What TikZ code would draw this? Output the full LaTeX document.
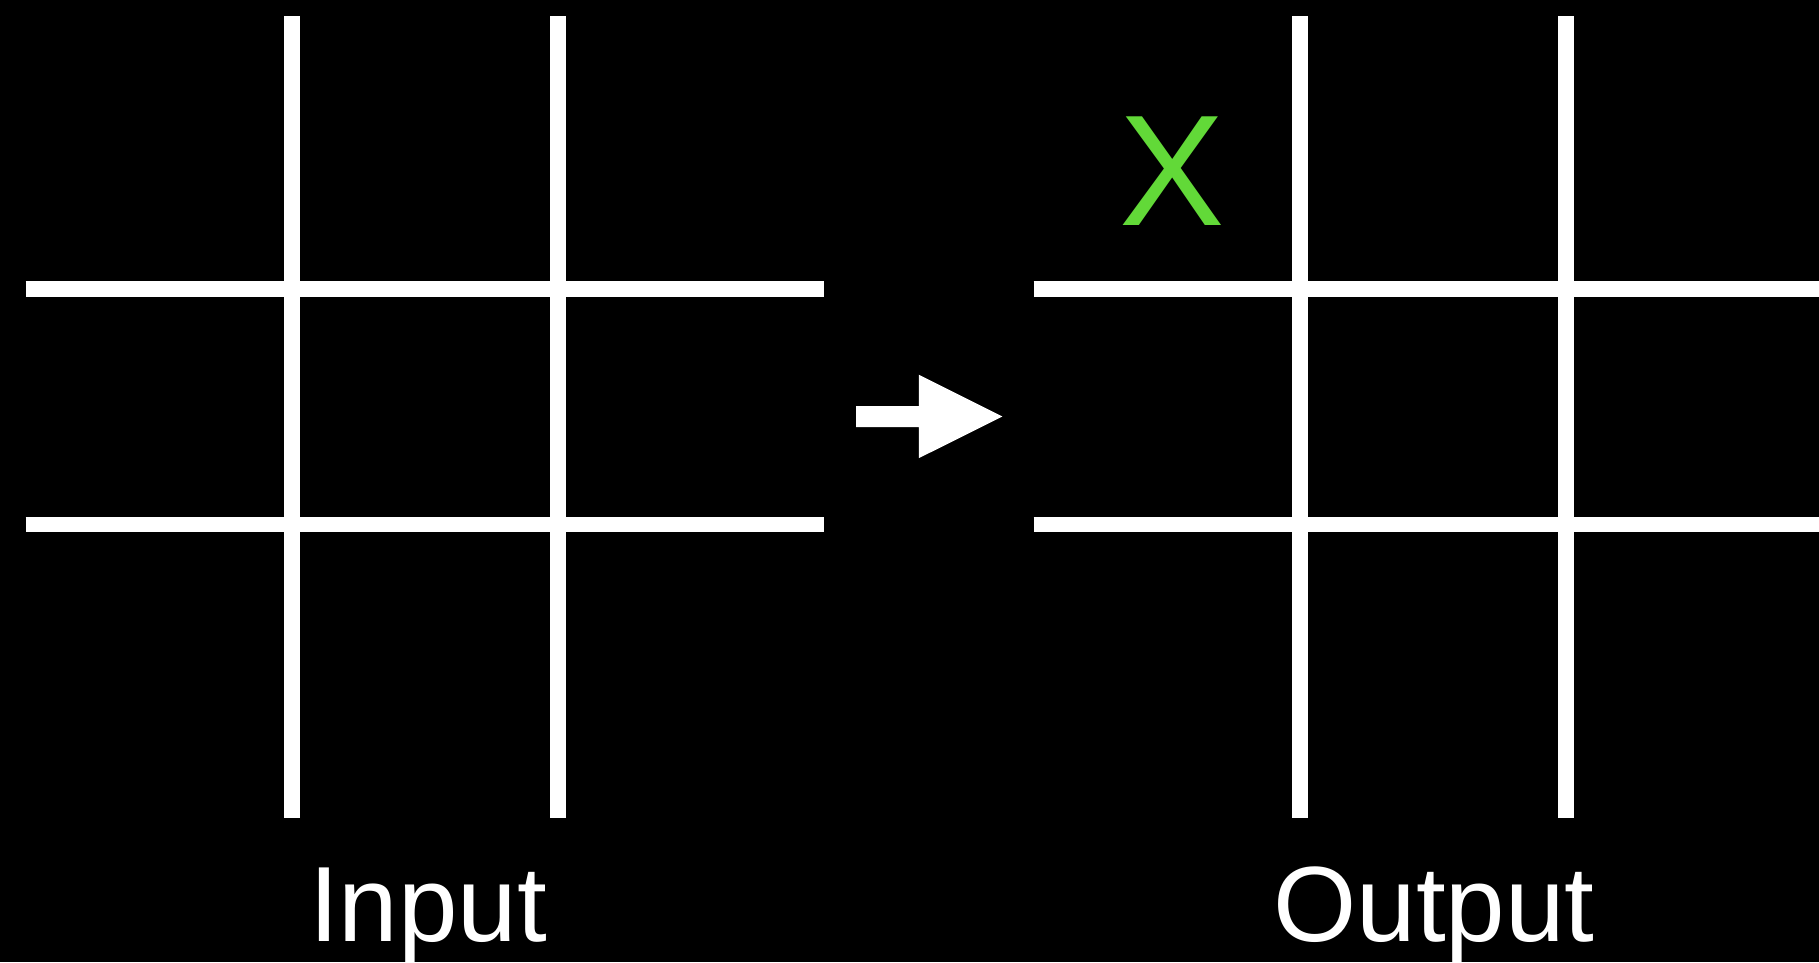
\documentclass[tikz,border=0pt]{standalone}
\usepackage{fontspec}
\setmainfont{Liberation Sans}
\definecolor{xgreen}{RGB}{98,217,56}
\begin{document}
\begin{tikzpicture}[x=1pt,y=-1pt,
  gridline/.style={draw=white,line width=15.5pt},
  label/.style={text=white,inner sep=0pt,anchor=base,font=\fontsize{107}{120}\selectfont},
  mark/.style={}]
\fill[black] (0,0) rectangle (1819,962);
\useasboundingbox (0,0) rectangle (1819,962);
% left grid
\draw[gridline] (291.8,16) -- (291.8,818);
\draw[gridline] (558,16) -- (558,818);
\draw[gridline] (25.5,289) -- (823.7,289);
\draw[gridline] (25.5,524.4) -- (823.7,524.4);
% right grid
\draw[gridline] (1299.9,16) -- (1299.9,818);
\draw[gridline] (1566.1,16) -- (1566.1,818);
\draw[gridline] (1033.7,289) -- (1830,289);
\draw[gridline] (1033.7,524.4) -- (1830,524.4);
% arrow
\fill[white] (856.2,406) -- (918.8,406) -- (918.8,374.7) -- (1002.3,416.5)
  -- (918.8,458.2) -- (918.8,427) -- (856.2,427) -- cycle;
% texts
\node[label] (in) at (428,941) {Input};
\node[label] (out) at (1434,941) {Output};
\node[inner sep=0pt,anchor=base,text=xgreen,font=\fontsize{158}{170}\selectfont] (x) at (1172,225) {X};
\end{tikzpicture}
\end{document}
